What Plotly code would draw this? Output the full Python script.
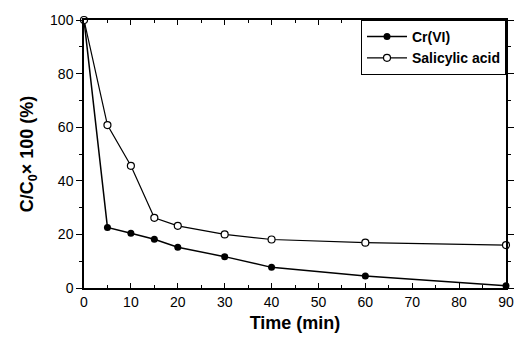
import plotly.graph_objects as go

time_cr = [0, 5, 10, 15, 20, 30, 40, 60, 90]
cr_vi = [100, 22.6, 20.4, 18.2, 15.2, 11.7, 7.7, 4.5, 0.8]
time_sa = [0, 5, 10, 15, 20, 30, 40, 60, 90]
salicylic = [100, 60.8, 45.6, 26.2, 23.2, 20.0, 18.1, 16.9, 16.0]

x_ticks = [0, 10, 20, 30, 40, 50, 60, 70, 80, 90]
y_ticks = [0, 20, 40, 60, 80, 100]

fig = go.Figure()
fig.add_trace(go.Scatter(
    x=time_cr, y=cr_vi, mode="lines+markers", name="<b>Cr(VI)</b>",
    line=dict(color="black", width=1.5),
    marker=dict(symbol="circle", size=7, color="black"),
    cliponaxis=False,
))
fig.add_trace(go.Scatter(
    x=time_sa, y=salicylic, mode="lines+markers", name="<b>Salicylic acid</b>",
    line=dict(color="black", width=1.2),
    marker=dict(symbol="circle", size=7, color="white", line=dict(color="black", width=1.2)),
    cliponaxis=False,
))

font = "Liberation Sans, Arial, sans-serif"
fig.update_layout(
    width=526, height=346,
    margin=dict(l=84, r=16, t=12, b=58),
    paper_bgcolor="white", plot_bgcolor="white",
    font=dict(family=font, color="black", size=14),
    showlegend=True,
    legend=dict(
        x=1, y=1, xanchor="right", yanchor="top",
        bordercolor="black", borderwidth=1, bgcolor="white",
        font=dict(size=14), tracegroupgap=0,
        itemwidth=40,
    ),
    xaxis=dict(
        range=[0, 90], tickvals=x_ticks, ticks="inside", ticklen=5,
        tickcolor="black", showline=True, linecolor="black", linewidth=1.5,
        mirror="ticks", showgrid=False, zeroline=False,
        minor=dict(dtick=5, ticks="inside", ticklen=3, tickcolor="black"),
        title=dict(text="<b>Time (min)</b>", font=dict(size=18), standoff=8),
    ),
    yaxis=dict(
        range=[0, 100], tickvals=y_ticks, ticks="outside", ticklen=6,
        tickcolor="black", showline=True, linecolor="black", linewidth=1.5,
        mirror="ticks", showgrid=False, zeroline=False,
        minor=dict(dtick=10, ticks="outside", ticklen=3, tickcolor="black"),
        title=dict(text="<b>C/C<sub>0</sub>× 100 (%)</b>", font=dict(size=18), standoff=12),
    ),
)

fig.write_html("out.html")
